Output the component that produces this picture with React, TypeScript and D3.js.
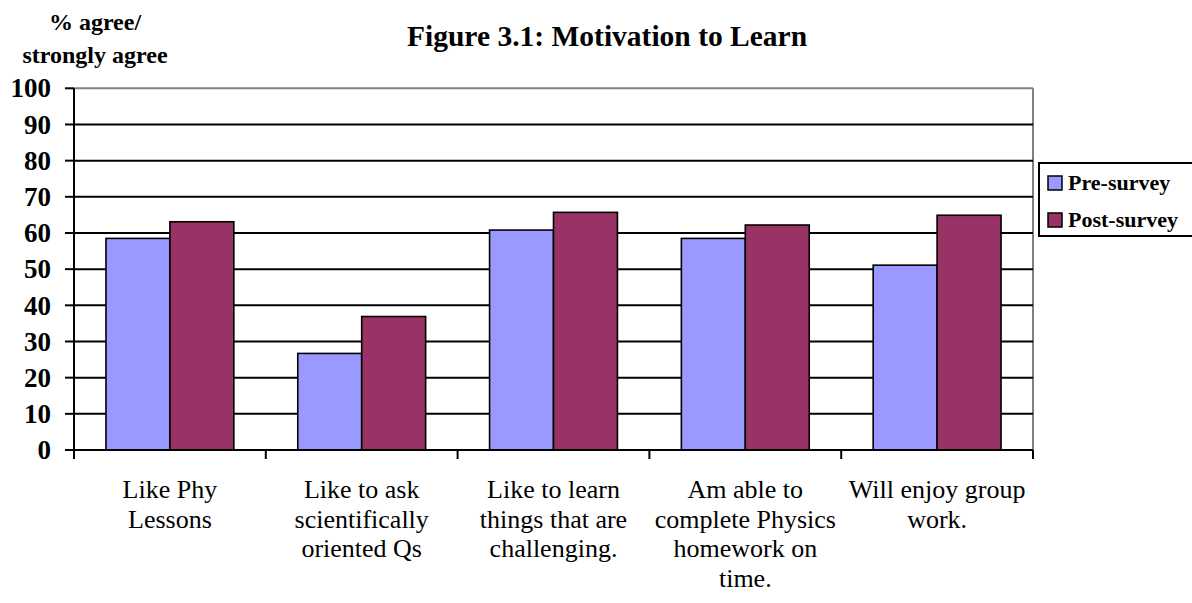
import React from "react";
import * as d3 from "d3";

const categories: string[][] = [
  ["Like Phy", "Lessons"],
  ["Like to ask", "scientifically", "oriented Qs"],
  ["Like to learn", "things that are", "challenging."],
  ["Am able to", "complete Physics", "homework on", "time."],
  ["Will enjoy group", "work."],
];
const preSurvey = [58.5, 26.7, 60.8, 58.5, 51.1];
const postSurvey = [63.1, 36.9, 65.7, 62.2, 64.9];
const seriesNames = ["Pre-survey", "Post-survey"];
const seriesColors = ["#9999FF", "#993366"];
const yTicks = [0, 10, 20, 30, 40, 50, 60, 70, 80, 90, 100];

const W = 1192;
const H = 603;
const left = 74;
const right = 1033;
const top = 88.3;
const bottom = 450;
const font = "'Liberation Serif', 'Times New Roman', serif";

export default function App() {
  const idx = categories.map((_, i) => String(i));
  const x = d3.scaleBand<string>().domain(idx).range([left, right]).paddingInner(1 / 3).paddingOuter(1 / 6);
  const xs = d3.scaleBand<string>().domain(["0", "1"]).range([0, x.bandwidth()]);
  const y = d3.scaleLinear().domain([0, 100]).range([bottom, top]);
  const step = (right - left) / categories.length;
  const series = [preSurvey, postSurvey];

  return (
    <svg width={W} height={H} style={{ position: "absolute", left: 0, top: 0, background: "#fff" }}>
      {/* y axis title */}
      <text x={95} y={30} textAnchor="middle" fontFamily={font} fontWeight="bold" fontSize={24}>% agree/</text>
      <text x={95} y={63} textAnchor="middle" fontFamily={font} fontWeight="bold" fontSize={24}>strongly agree</text>
      {/* title */}
      <text x={407} y={46} textAnchor="start" fontFamily={font} fontWeight="bold" fontSize={29.5}>Figure 3.1: Motivation to Learn</text>

      {/* plot border top/right */}
      <line x1={left} x2={right} y1={top} y2={top} stroke="#808080" strokeWidth={2} />
      <line x1={right} x2={right} y1={top} y2={bottom} stroke="#808080" strokeWidth={2} />

      {/* gridlines */}
      {yTicks.filter((t) => t > 0 && t < 100).map((t) => (
        <line key={t} x1={left} x2={right} y1={y(t)} y2={y(t)} stroke="#000" strokeWidth={2} />
      ))}

      {/* bars */}
      {series.map((vals, s) =>
        vals.map((v, i) => (
          <rect
            key={`${s}-${i}`}
            x={(x(String(i)) as number) + (xs(String(s)) as number)}
            y={y(v)}
            width={xs.bandwidth()}
            height={y(0) - y(v)}
            fill={seriesColors[s]}
            stroke="#000"
            strokeWidth={1.6}
          />
        ))
      )}

      {/* axes */}
      <line x1={left} x2={left} y1={top} y2={bottom + 9} stroke="#000" strokeWidth={2} />
      <line x1={left} x2={right} y1={bottom} y2={bottom} stroke="#000" strokeWidth={2} />
      {yTicks.map((t) => (
        <g key={t}>
          <line x1={left - 9} x2={left} y1={y(t)} y2={y(t)} stroke="#000" strokeWidth={2} />
          <text x={51} y={y(t)} dy="0.34em" textAnchor="end" fontFamily={font} fontWeight="bold" fontSize={27}>{t}</text>
        </g>
      ))}
      {d3.range(categories.length + 1).map((k) => (
        <line key={k} x1={left + k * step} x2={left + k * step} y1={bottom} y2={bottom + 9} stroke="#000" strokeWidth={2} />
      ))}

      {/* category labels */}
      {categories.map((lines, i) => (
        <text key={i} textAnchor="middle" fontFamily={font} fontSize={26}>
          {lines.map((ln, j) => (
            <tspan key={j} x={(x(String(i)) as number) + x.bandwidth() / 2} y={498 + j * 29.5}>{ln}</tspan>
          ))}
        </text>
      ))}

      {/* legend */}
      <rect x={1039} y={163} width={165} height={73} fill="#fff" stroke="#000" strokeWidth={2} />
      {seriesNames.map((n, s) => (
        <g key={n}>
          <rect x={1048} y={176 + s * 37} width={14} height={14} fill={seriesColors[s]} stroke="#000" strokeWidth={1.5} />
          <text x={1068} y={183 + s * 37} dy="0.34em" fontFamily={font} fontWeight="bold" fontSize={22}>{n}</text>
        </g>
      ))}
    </svg>
  );
}
